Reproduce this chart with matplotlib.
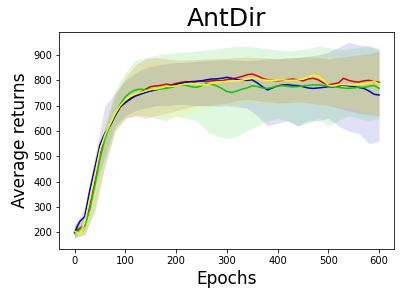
import numpy as np
import matplotlib
matplotlib.use("Agg")
import matplotlib.pyplot as plt

epochs = list(range(0, 601, 10))

blue_mean = [200, 242, 262, 365, 455, 545, 592, 620, 660, 695, 712, 728, 738, 745, 752, 758, 762, 768, 772, 778,
             783, 788, 792, 795, 796, 798, 802, 805, 806, 808, 812, 808, 803, 800, 800, 802, 790, 775, 762, 770,
             778, 782, 783, 780, 779, 775, 770, 768, 770, 772, 775, 774, 778, 782, 778, 775, 772, 768, 758, 745, 742]
red_mean = [205, 215, 228, 305, 400, 505, 578, 622, 660, 695, 712, 725, 740, 752, 765, 775, 778, 780, 785, 782,
            788, 792, 795, 792, 795, 797, 795, 798, 800, 798, 803, 805, 810, 815, 822, 825, 818, 808, 802, 800,
            798, 800, 803, 805, 802, 798, 805, 808, 802, 790, 782, 786, 790, 808, 800, 795, 793, 798, 800, 795, 792]
green_mean = [195, 210, 225, 290, 385, 490, 570, 625, 665, 705, 735, 752, 762, 765, 762, 765, 763, 766, 768, 772,
              778, 782, 780, 775, 772, 778, 787, 785, 778, 768, 756, 752, 758, 765, 770, 778, 776, 770, 768, 772,
              778, 779, 776, 774, 775, 778, 780, 782, 782, 780, 778, 776, 772, 770, 768, 770, 773, 772, 776, 780, 768]
yellow_mean = [205, 192, 238, 330, 425, 525, 585, 628, 670, 700, 722, 738, 745, 752, 758, 764, 766, 770, 775, 776,
               778, 782, 786, 788, 785, 782, 782, 788, 792, 795, 795, 797, 798, 800, 805, 808, 806, 802, 800, 800,
               801, 802, 800, 800, 801, 805, 812, 820, 815, 800, 780, 778, 782, 784, 782, 782, 784, 786, 790, 796, 785]

band_epochs = list(range(0, 601, 20))

blue_upper = [225, 300, 500, 700, 750, 800, 830, 850, 860, 865, 870, 872, 875, 878, 880, 882, 880, 878, 880, 885,
              885, 888, 890, 895, 900, 910, 930, 950, 940, 935, 920]
blue_lower = [178, 210, 380, 500, 620, 660, 680, 690, 700, 700, 705, 705, 700, 700, 698, 700, 695, 690, 660, 620,
              630, 640, 620, 640, 640, 650, 620, 600, 590, 550, 560]
red_upper = [230, 260, 420, 610, 740, 810, 860, 885, 890, 885, 880, 880, 882, 885, 885, 888, 890, 892, 890, 888,
             885, 888, 890, 892, 890, 885, 890, 895, 900, 905, 915]
red_lower = [180, 190, 280, 460, 600, 650, 660, 650, 660, 670, 680, 690, 700, 700, 705, 710, 720, 725, 720, 715,
             710, 712, 715, 712, 705, 700, 690, 680, 670, 665, 660]
green_upper = [230, 260, 420, 620, 760, 830, 880, 890, 900, 905, 910, 912, 915, 920, 925, 930, 935, 935, 930, 925,
               920, 915, 920, 925, 935, 930, 920, 925, 930, 935, 930]
green_lower = [175, 190, 290, 470, 600, 650, 660, 660, 650, 640, 660, 650, 640, 600, 580, 570, 580, 600, 620, 640,
               650, 640, 620, 630, 650, 620, 640, 660, 650, 640, 650]
yellow_upper = [225, 270, 440, 640, 760, 820, 860, 875, 880, 878, 875, 878, 880, 882, 885, 888, 890, 890, 888, 885,
                885, 888, 890, 895, 900, 895, 890, 892, 895, 900, 905]
yellow_lower = [178, 195, 300, 480, 610, 660, 665, 660, 660, 655, 650, 660, 680, 690, 700, 705, 710, 715, 712, 710,
                708, 710, 715, 712, 705, 700, 695, 690, 680, 670, 665]

series = [
    ("#dd0000", red_mean, red_lower, red_upper),
    ("#0000cc", blue_mean, blue_lower, blue_upper),
    ("#00cc00", green_mean, green_lower, green_upper),
    ("#ffff00", yellow_mean, yellow_lower, yellow_upper),
]

fig = plt.figure(figsize=(404 / 72, 298 / 72), dpi=72)
ax = fig.add_axes([59.3 / 404, 49 / 298, 335 / 404, 217.3 / 298])

for color, mean, lo, hi in series:
    ax.fill_between(band_epochs, lo, hi, color=color, alpha=0.12, linewidth=0)
for color, mean, lo, hi in series:
    ax.plot(epochs, mean, color=color, linewidth=1.5)

ax.set_xlim(-30, 630)
ax.set_ylim(134, 992)
ax.set_xticks([0, 100, 200, 300, 400, 500, 600])
ax.set_yticks([200, 300, 400, 500, 600, 700, 800, 900])
ax.tick_params(labelsize=10)
ax.set_title("AntDir", fontsize=25)
ax.set_xlabel("Epochs", fontsize=17)
ax.set_ylabel("Average returns", fontsize=17)

fig.savefig("out.png", dpi=72)
